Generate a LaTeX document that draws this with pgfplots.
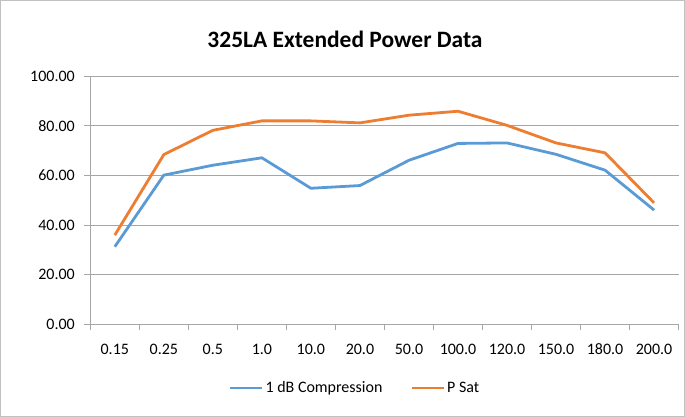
\documentclass[border=0pt]{standalone}
\usepackage{pgfplots}
\pgfplotsset{compat=1.18}
\usepackage{fontspec}
\setmainfont{Carlito}
\definecolor{exblue}{HTML}{5B9BD5}
\definecolor{exorange}{HTML}{ED7D31}
\definecolor{gridgray}{HTML}{A6A6A6}
\begin{document}
\begin{tikzpicture}[x=1pt,y=1pt]
\draw[gridgray!70, line width=0.8pt] (0,0) rectangle (685,416);
\node[font=\fontsize{23.5}{26}\selectfont\bfseries] at (345,377) {325LA Extended Power Data};
\begin{axis}[
  at={(90pt,92pt)}, anchor=south west,
  scale only axis, width=589pt, height=248pt,
  xmin=-0.5, xmax=11.5, ymin=0, ymax=100,
  xtick={0,...,11},
  xticklabels={0.15,0.25,0.5,1.0,10.0,20.0,50.0,100.0,120.0,150.0,180.0,200.0},
  minor xtick={-0.5,0.5,...,11.5},
  ytick={0,20,...,100},
  major x tick style={draw=none},
  tick align=outside,
  minor tick length=6pt, major tick length=6pt,
  tick style={gridgray, line width=0.8pt},
  ymajorgrids, grid style={gridgray, line width=0.8pt},
  axis x line*=bottom, axis y line*=left,
  axis line style={gridgray, line width=0.8pt, -},
  y tick label style={/pgf/number format/fixed, /pgf/number format/fixed zerofill, /pgf/number format/precision=2, xshift=-6pt},
  /pgf/number format/assume math mode=true,
  tick label style={font=\fontsize{16}{19}\selectfont, black},
  xticklabel style={yshift=-10pt, text height=11pt, text depth=3pt},
  legend style={at={(0.45,-0.258)}, anchor=center, draw=none, legend columns=2,
    font=\fontsize{16}{19}\selectfont,
    /tikz/every even column/.style={column sep=26pt}},
  legend image code/.code={\draw[#1, line width=2.8pt] (0pt,0pt) -- (32pt,0pt);},
]
\addplot[exblue, line width=2.8pt] coordinates {
 (0,31.2) (1,60.1) (2,64.1) (3,67.1) (4,54.8) (5,55.9) (6,66.1) (7,72.9) (8,73.1) (9,68.5) (10,62.1) (11,46.0)};
\addlegendentry{1 dB Compression}
\addplot[exorange, line width=2.8pt] coordinates {
 (0,35.9) (1,68.4) (2,78.2) (3,82.0) (4,82.0) (5,81.2) (6,84.3) (7,85.9) (8,80.2) (9,73.1) (10,69.1) (11,48.9)};
\addlegendentry{P Sat}
\end{axis}
\end{tikzpicture}
\end{document}
